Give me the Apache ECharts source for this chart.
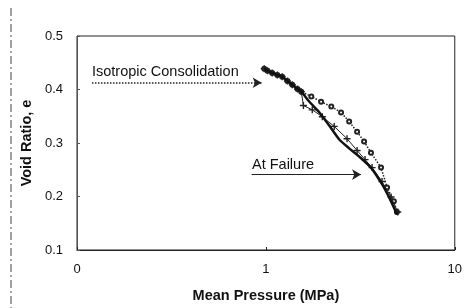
<!DOCTYPE html>
<html>
<head>
<meta charset="utf-8">
<script src="https://cdn.jsdelivr.net/npm/echarts@6/dist/echarts.min.js"></script>
<style>
  html, body { margin: 0; padding: 0; background: #fff; }
  #chart { width: 465px; height: 308px; }
</style>
</head>
<body>
<div id="chart"></div>
<script>
// shared loading path (isotropic consolidation)
const commonP = [0.98, 1.02, 1.08, 1.15, 1.22, 1.30, 1.38, 1.47, 1.54];
const commonE = [0.439, 0.435, 0.431, 0.427, 0.424, 0.416, 0.409, 0.401, 0.396];

// upper curve (circles, dotted)
const upperP = [1.74, 1.96, 2.22, 2.50, 2.76, 3.04, 3.31, 3.60, 4.07, 4.38, 4.76, 4.94];
const upperE = [0.387, 0.377, 0.368, 0.357, 0.340, 0.321, 0.303, 0.282, 0.254, 0.217, 0.191, 0.171];

// middle curve (crosses)
const middleP = [1.58, 1.76, 1.99, 2.30, 2.69, 3.04, 3.35, 3.65, 4.12, 4.60, 4.99];
const middleE = [0.370, 0.362, 0.349, 0.331, 0.308, 0.286, 0.269, 0.254, 0.228, 0.199, 0.171];

// lower curve (thick solid)
const lowerP = [1.70, 1.92, 2.16, 2.44, 2.76, 3.11, 3.60, 4.12, 4.48, 4.94];
const lowerE = [0.377, 0.357, 0.333, 0.307, 0.290, 0.275, 0.254, 0.223, 0.199, 0.167];

const yTicks = [0.1, 0.2, 0.3, 0.4, 0.5];

function pairs(p, e) {
  const es = commonE.concat(e);
  return commonP.concat(p).map((v, i) => [v, es[i]]);
}

const chart = echarts.init(document.getElementById('chart'));
const font = 'Liberation Sans, Arial, sans-serif';

chart.setOption({
  animation: false,
  textStyle: { fontFamily: font },
  grid: { left: 77, right: 9, top: 36, bottom: 57, show: true, borderColor: '#222', borderWidth: 1 },
  xAxis: {
    type: 'log',
    logBase: 10,
    min: 0.1,
    max: 10,
    name: 'Mean Pressure (MPa)',
    nameLocation: 'middle',
    nameGap: 38,
    nameTextStyle: { fontWeight: 'bold', fontSize: 14.5, color: '#111' },
    axisLine: { lineStyle: { color: '#222' } },
    axisTick: { inside: true, length: 3, lineStyle: { color: '#222' } },
    minorTick: { show: false },
    splitLine: { show: false },
    axisLabel: {
      color: '#111', fontSize: 13, margin: 13,
      formatter: v => (v < 0.5 ? '0' : String(Math.round(v)))
    }
  },
  yAxis: {
    type: 'value',
    min: 0.1,
    max: 0.5,
    interval: 0.1,
    name: 'Void Ratio, e',
    nameLocation: 'middle',
    nameGap: 42,
    nameTextStyle: { fontWeight: 'bold', fontSize: 14.5, color: '#111' },
    axisLine: { show: true, lineStyle: { color: '#555' } },
    axisTick: { show: true, inside: true, length: 3, lineStyle: { color: '#555' } },
    splitLine: { show: false },
    axisLabel: {
      color: '#111', fontSize: 13, margin: 14,
      formatter: v => {
        const t = yTicks.find(y => Math.abs(y - v) < 1e-6);
        return t !== undefined ? t.toFixed(1) : '';
      }
    }
  },
  series: [
    {
      type: 'line',
      data: pairs(upperP, upperE),
      symbol: 'emptyCircle',
      symbolSize: 4,
      itemStyle: { color: '#222', borderWidth: 1 },
      lineStyle: { color: '#222', width: 1.5, type: 'dotted' },
      z: 3
    },
    {
      type: 'line',
      data: pairs(middleP, middleE),
      symbol: 'path://M4,0H6V4H10V6H6V10H4V6H0V4H4Z',
      symbolSize: 7,
      itemStyle: { color: '#222' },
      lineStyle: { color: '#222', width: 1 },
      z: 4
    },
    {
      type: 'line',
      data: pairs(lowerP, lowerE),
      symbol: 'none',
      smooth: 0.2,
      lineStyle: { color: '#111', width: 2.5 },
      z: 5,
      markLine: {
        silent: true,
        symbol: ['none', 'arrow'],
        symbolSize: [8, 9],
        label: { show: false },
        data: [
          [
            { coord: [0.12, 0.4126], lineStyle: { type: 'dotted', width: 1.5, color: '#222' } },
            { coord: [0.95, 0.4126] }
          ],
          [
            { coord: [0.84, 0.241], lineStyle: { type: 'solid', width: 1, color: '#222' } },
            { coord: [3.19, 0.241] }
          ]
        ]
      }
    }
  ],
  graphic: [
    {
      type: 'text', left: 92, top: 64,
      style: { text: 'Isotropic Consolidation', fill: '#111', fontSize: 14.5, fontFamily: font }
    },
    {
      type: 'text', left: 252, top: 157,
      style: { text: 'At Failure', fill: '#111', fontSize: 14.5, fontFamily: font }
    },
    {
      type: 'line',
      shape: { x1: 11, y1: 8, x2: 11, y2: 308 },
      style: { stroke: '#444', lineWidth: 1, lineDash: [8, 3, 2, 3] }
    }
  ]
});
</script>
</body>
</html>
